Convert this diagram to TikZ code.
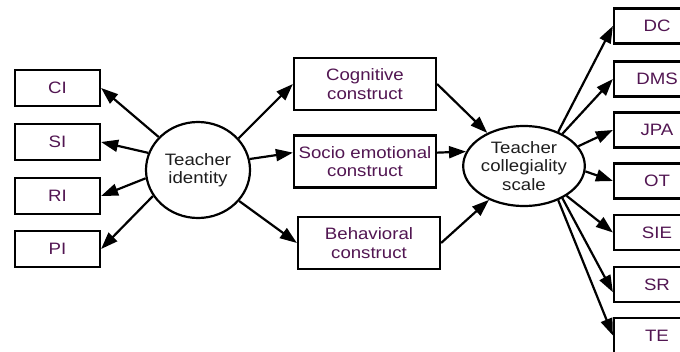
\documentclass[tikz,border=0pt]{standalone}
\usepackage{fontspec}
\setmainfont{Liberation Sans}[FakeStretch=1.13]
\usetikzlibrary{arrows.meta,shapes.geometric}
\definecolor{boxtext}{RGB}{82,22,82}
\definecolor{elltext}{RGB}{30,30,30}
\tikzset{
  lbl/.style={font=\fontsize{16.5}{18.5}\selectfont, align=center, inner sep=0pt},
  sbox/.style={lbl, draw=black, line width=2.2pt, text=boxtext, minimum width=85pt, minimum height=36pt},
  cbox/.style={lbl, draw=black, line width=2.2pt, text=boxtext, minimum width=142pt, minimum height=52pt},
  rbox/.style={lbl, draw=black, line width=2.2pt, text=boxtext, minimum width=86pt, minimum height=35pt},
  oval/.style={lbl, ellipse, draw=black, line width=2.2pt, text=elltext},
  arr/.style={line width=2.2pt, -{Triangle[length=17pt,width=12pt]}},
}
\begin{document}
\begin{tikzpicture}[x=1pt,y=-1pt]
\useasboundingbox (0,0) rectangle (680,351);
\clip (0,0) rectangle (680,351);
\fill[white] (0,0) rectangle (680,351);
% left boxes
\node[sbox] (ci) at (57.5,88) {CI};
\node[sbox] (si) at (57.5,142) {SI};
\node[sbox] (ri) at (57.5,196) {RI};
\node[sbox] (pi) at (57.5,249) {PI};
% teacher identity
\node[oval, minimum width=104pt, minimum height=96pt] (ti) at (198,170) {Teacher\\identity};
% constructs
\node[cbox] (cog) at (365,84) {Cognitive\\construct};
\node[cbox] (soc) at (365,161.5) {Socio emotional\\construct};
\node[cbox] (beh) at (369,243) {Behavioral\\construct};
% collegiality
\node[oval, minimum width=102pt, minimum height=80pt] (col) at (524,166) {Teacher\\collegiality\\scale};
% right boxes
\node[rbox] (dc) at (657,26) {DC};
\node[rbox] (dms) at (657,79) {DMS};
\node[rbox] (jpa) at (657,130) {JPA};
\node[rbox] (ot) at (657,181) {OT};
\node[rbox] (sie) at (657,232.5) {SIE};
\node[rbox] (sr) at (657,284.5) {SR};
\node[rbox] (te) at (657,335.5) {TE};
% arrows from teacher identity
\draw[arr] (ti.140) -- (ci.east);
\draw[arr] (ti.161) -- (si.east);
\draw[arr] (ti.189) -- (ri.east);
\draw[arr] (ti.210) -- (pi.east);
\draw[arr] (ti.38) -- (cog.west);
\draw[arr] (ti.12) -- (soc.173);
\draw[arr] (ti.-37) -- (beh.west);
% constructs to collegiality
\draw[arr] (cog.east) -- (col.138);
\draw[arr] (soc.7) -- (col.166);
\draw[arr] (beh.east) -- (col.224);
% collegiality to right boxes
\draw[arr] (col.45) -- (dc.west);
\draw[arr] (col.40) -- (dms.west);
\draw[arr] (col.20) -- (jpa.west);
\draw[arr] (col.-5) -- (ot.west);
\draw[arr] (col.-35) -- (sie.west);
\draw[arr] (col.-40) -- (sr.190);
\draw[arr] (col.-45) -- (te.west);
\end{tikzpicture}
\end{document}
